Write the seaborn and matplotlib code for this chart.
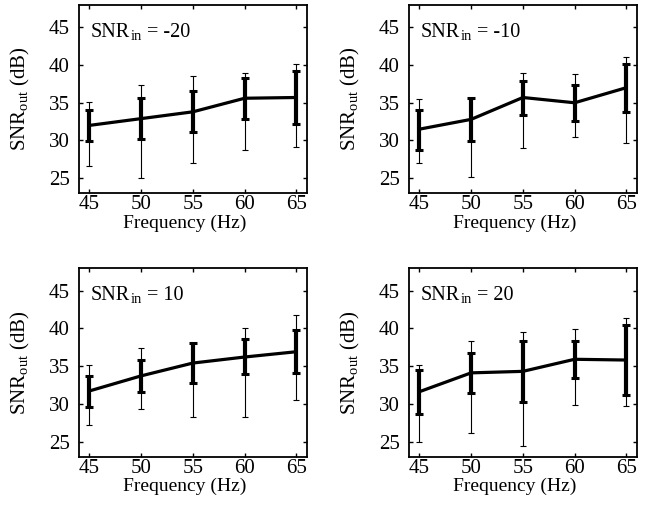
import numpy as np
import pandas as pd
import matplotlib
matplotlib.use("Agg")
import matplotlib.pyplot as plt
import seaborn as sns

freqs = [45, 50, 55, 60, 65]
snr_in = [-20, -10, 10, 20]

mean_m20 = [32.0, 32.9, 33.8, 35.6, 35.7]
q_lo_m20 = [29.9, 30.2, 31.1, 32.8, 32.2]
q_hi_m20 = [34.1, 35.6, 36.5, 38.3, 39.2]
r_lo_m20 = [26.6, 25.0, 27.0, 28.7, 29.1]
r_hi_m20 = [35.1, 37.3, 38.6, 39.0, 40.1]

mean_m10 = [31.5, 32.8, 35.7, 35.0, 37.0]
q_lo_m10 = [28.8, 29.9, 33.4, 32.6, 33.8]
q_hi_m10 = [34.0, 35.6, 37.9, 37.4, 40.1]
r_lo_m10 = [27.0, 25.1, 29.0, 30.5, 29.7]
r_hi_m10 = [35.5, 35.6, 39.0, 38.8, 41.1]

mean_p10 = [31.7, 33.7, 35.4, 36.2, 36.9]
q_lo_p10 = [29.6, 31.5, 32.8, 33.9, 34.1]
q_hi_p10 = [33.7, 35.8, 38.0, 38.6, 39.8]
r_lo_p10 = [27.2, 29.3, 28.3, 28.3, 30.5]
r_hi_p10 = [35.1, 37.4, 38.0, 40.0, 41.8]

mean_p20 = [31.6, 34.1, 34.3, 35.9, 35.8]
q_lo_p20 = [28.7, 31.4, 30.3, 33.4, 31.1]
q_hi_p20 = [34.5, 36.7, 38.3, 38.3, 40.4]
r_lo_p20 = [24.9, 26.1, 24.4, 29.9, 29.7]
r_hi_p20 = [35.2, 38.3, 39.5, 39.9, 41.4]

panels = [
    (mean_m20, q_lo_m20, q_hi_m20, r_lo_m20, r_hi_m20),
    (mean_m10, q_lo_m10, q_hi_m10, r_lo_m10, r_hi_m10),
    (mean_p10, q_lo_p10, q_hi_p10, r_lo_p10, r_hi_p10),
    (mean_p20, q_lo_p20, q_hi_p20, r_lo_p20, r_hi_p20),
]

sns.set_theme(style="ticks")
plt.rcParams['font.family'] = ['Liberation Serif', 'DejaVu Serif']
plt.rcParams['mathtext.fontset'] = 'custom'
plt.rcParams['mathtext.rm'] = 'Liberation Serif'
plt.rcParams['mathtext.it'] = 'Liberation Serif:italic'
plt.rcParams['axes.unicode_minus'] = False
for k in ['text.color', 'axes.labelcolor', 'xtick.color', 'ytick.color', 'axes.edgecolor']:
    plt.rcParams[k] = 'black'

fig = plt.figure(figsize=(6.57, 5.15), dpi=100)
W, H = 657, 515
lefts = [79, 409]
tops = [4.7, 268]
aw, ah = 227.7, 188.6

for i, (snr, (m, ql, qh, rl, rh)) in enumerate(zip(snr_in, panels)):
    r, c = divmod(i, 2)
    ax = fig.add_axes([lefts[c] / W, 1 - (tops[r] + ah) / H, aw / W, ah / H])
    df = pd.DataFrame({"freq": freqs, "snr": m})
    m_a = np.array(m)
    ax.errorbar(freqs, m, yerr=[m_a - np.array(rl), np.array(rh) - m_a], fmt='none',
                ecolor='black', elinewidth=0.8, capsize=2.2, capthick=0.8, zorder=2)
    ax.errorbar(freqs, m, yerr=[m_a - np.array(ql), np.array(qh) - m_a], fmt='none',
                ecolor='black', elinewidth=3.0, capsize=3.0, capthick=2.2, zorder=3)
    sns.lineplot(data=df, x="freq", y="snr", ax=ax, color='black', linewidth=2.3, zorder=4)
    ax.set_xlim(44, 66)
    ax.set_ylim(23, 48)
    ax.set_xticks(freqs)
    ax.set_yticks([25, 30, 35, 40, 45])
    ax.tick_params(direction='in', length=3, width=1, top=True, right=True,
                   labelsize=15, colors='black')
    ax.tick_params(axis='x', pad=1.5)
    ax.tick_params(axis='y', pad=6.5)
    for sp in ax.spines.values():
        sp.set_linewidth(1.3)
        sp.set_color('black')
    ax.set_xlabel("Frequency (Hz)", fontsize=14, labelpad=0)
    ax.xaxis.set_label_coords(0.466, -0.113)
    ax.xaxis.label.set_va('top')
    ax.set_ylabel(r"SNR$_{\mathrm{out}}$ (dB)", fontsize=15)
    ax.yaxis.set_label_coords(-0.206, 0.5)
    t1 = ax.text(0.053, 0.83, "SNR", transform=ax.transAxes,
                 fontsize=14.5, ha='left', va='baseline')
    t2 = ax.annotate("in", xy=(1.0, 0.0), xycoords=t1, xytext=(0.3, -0.8),
                     textcoords='offset points', fontsize=10.5, ha='left', va='bottom')
    ax.annotate(" = %d" % snr, xy=(1.0, 0.0), xycoords=(t2, t1), xytext=(0, 0),
                textcoords='offset points', fontsize=14.5, ha='left', va='bottom')

fig.savefig("out.png", dpi=100)
